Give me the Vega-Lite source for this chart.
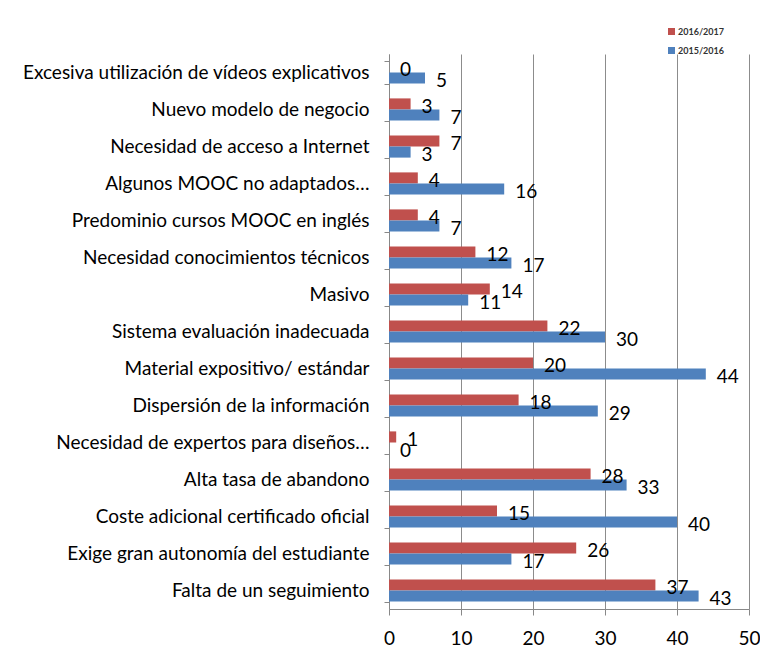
{
  "$schema": "https://vega.github.io/schema/vega-lite/v6.json",
  "autosize": {"type": "none"},
  "width": 360,
  "height": 555,
  "padding": {"left": 389, "top": 54, "right": 11, "bottom": 39},
  "background": "white",
  "config": {
    "view": {"stroke": null},
    "font": "Lato",
    "axis": {"labelFont": "Lato", "labelColor": "#000000"}
  },
  "data": {
    "values": [
      {"cat": "Excesiva utilización de vídeos explicativos", "serie": "2016/2017", "v": 0},
      {"cat": "Excesiva utilización de vídeos explicativos", "serie": "2015/2016", "v": 5},
      {"cat": "Nuevo modelo de negocio ", "serie": "2016/2017", "v": 3},
      {"cat": "Nuevo modelo de negocio ", "serie": "2015/2016", "v": 7},
      {"cat": "Necesidad de acceso a Internet", "serie": "2016/2017", "v": 7},
      {"cat": "Necesidad de acceso a Internet", "serie": "2015/2016", "v": 3},
      {"cat": "Algunos MOOC no adaptados…", "serie": "2016/2017", "v": 4},
      {"cat": "Algunos MOOC no adaptados…", "serie": "2015/2016", "v": 16},
      {"cat": "Predominio cursos MOOC en inglés", "serie": "2016/2017", "v": 4},
      {"cat": "Predominio cursos MOOC en inglés", "serie": "2015/2016", "v": 7},
      {"cat": "Necesidad conocimientos técnicos", "serie": "2016/2017", "v": 12},
      {"cat": "Necesidad conocimientos técnicos", "serie": "2015/2016", "v": 17},
      {"cat": "Masivo", "serie": "2016/2017", "v": 14},
      {"cat": "Masivo", "serie": "2015/2016", "v": 11},
      {"cat": "Sistema evaluación inadecuada", "serie": "2016/2017", "v": 22},
      {"cat": "Sistema evaluación inadecuada", "serie": "2015/2016", "v": 30},
      {"cat": "Material expositivo/ estándar", "serie": "2016/2017", "v": 20},
      {"cat": "Material expositivo/ estándar", "serie": "2015/2016", "v": 44},
      {"cat": "Dispersión de la información", "serie": "2016/2017", "v": 18},
      {"cat": "Dispersión de la información", "serie": "2015/2016", "v": 29},
      {"cat": "Necesidad de expertos para diseños…", "serie": "2016/2017", "v": 1},
      {"cat": "Necesidad de expertos para diseños…", "serie": "2015/2016", "v": 0},
      {"cat": "Alta tasa de abandono", "serie": "2016/2017", "v": 28},
      {"cat": "Alta tasa de abandono", "serie": "2015/2016", "v": 33},
      {"cat": "Coste adicional certificado oficial", "serie": "2016/2017", "v": 15},
      {"cat": "Coste adicional certificado oficial", "serie": "2015/2016", "v": 40},
      {"cat": "Exige gran autonomía del estudiante", "serie": "2016/2017", "v": 26},
      {"cat": "Exige gran autonomía del estudiante", "serie": "2015/2016", "v": 17},
      {"cat": "Falta de un seguimiento", "serie": "2016/2017", "v": 37},
      {"cat": "Falta de un seguimiento", "serie": "2015/2016", "v": 43}
    ]
  },
  "encoding": {
    "y": {
      "field": "cat", "type": "nominal", "sort": null, "title": null,
      "scale": {"paddingInner": 0.4, "paddingOuter": 0.2},
      "axis": {
        "tickBand": "extent", "tickSize": 5, "tickColor": "#888888",
        "domainColor": "#888888", "labelFontSize": 19, "labelPadding": 15,
        "labelLimit": 400
      }
    },
    "yOffset": {"field": "serie", "type": "nominal", "sort": ["2016/2017", "2015/2016"], "scale": {"paddingInner": 0, "paddingOuter": 0}},
    "x": {
      "field": "v", "type": "quantitative", "title": null,
      "scale": {"domain": [0, 50], "nice": false},
      "axis": {
        "values": [0, 10, 20, 30, 40, 50], "grid": true, "gridColor": "#8c8c8c",
        "domainColor": "#888888", "tickColor": "#888888", "tickSize": 6,
        "labelFontSize": 19, "labelPadding": 14, "labelFlush": false
      }
    }
  },
  "layer": [
    {
      "mark": {"type": "bar"},
      "encoding": {
        "color": {
          "field": "serie", "type": "nominal",
          "scale": {"domain": ["2016/2017", "2015/2016"], "range": ["#C0504D", "#4F81BD"]},
          "legend": {
            "title": null, "orient": "none", "legendX": 278, "legendY": -27,
            "symbolType": "square", "symbolSize": 49, "symbolStrokeWidth": 0,
            "labelFontSize": 9, "labelFontWeight": "bold", "labelColor": "#333333",
            "labelOffset": 2, "rowPadding": 9, "padding": 0
          }
        }
      }
    },
    {
      "mark": {"type": "text", "align": "left", "baseline": "middle", "dx": 11, "dy": 3, "fontSize": 19, "font": "Lato", "color": "#000000"},
      "encoding": {"text": {"field": "v", "type": "quantitative"}}
    }
  ]
}
